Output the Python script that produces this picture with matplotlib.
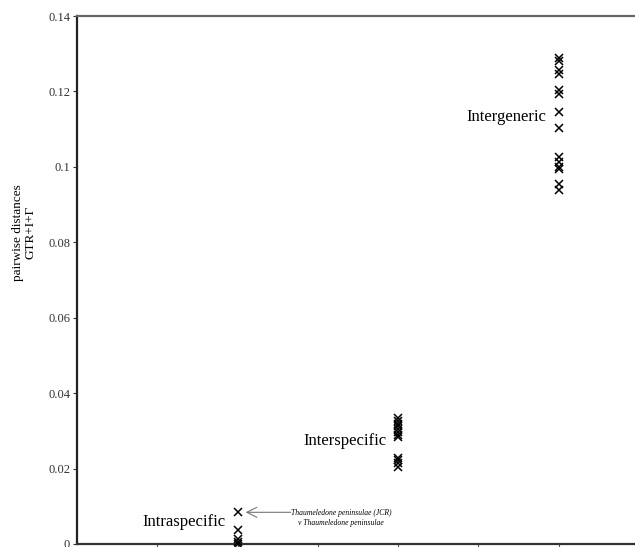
import matplotlib.pyplot as plt
import numpy as np

plt.rcParams['font.family'] = ['Liberation Serif', 'DejaVu Serif']

# data: pairwise distances GTR+I+G per comparison group
groups = ['Intraspecific', 'Interspecific', 'Intergeneric']
group_x = [2, 4, 6]
intra = [0.0084, 0.0037, 0.0012, 0.0005, 0.0]
inter = [0.0334, 0.0325, 0.0318, 0.0312, 0.0305, 0.0298, 0.0290, 0.0285,
         0.0228, 0.0222, 0.0215, 0.0205]
gener = [0.1290, 0.1282, 0.1257, 0.1245, 0.1204, 0.1192, 0.1145, 0.1102,
         0.1025, 0.1012, 0.1000, 0.0995, 0.0955, 0.0940]
yticks = [0, 0.02, 0.04, 0.06, 0.08, 0.1, 0.12, 0.14]
ytick_labels = ['0', '0.02', '0.04', '0.06', '0.08', '0.1', '0.12', '0.14']

fig = plt.figure(figsize=(6.35, 5.47), dpi=100)
ax = fig.add_axes([0.1213, 0.0055, 0.885, 0.9652])

for gx, vals in zip(group_x, [intra, inter, gener]):
    ax.plot([gx] * len(vals), vals, 'x', color='black', markersize=5.5,
            markeredgewidth=1.1, clip_on=False, zorder=3)

ax.set_xlim(0, 7)
ax.set_ylim(0, 0.14)
ax.set_xticks(np.arange(1, 7))
ax.set_xticklabels([])
ax.set_yticks(yticks)
ax.set_yticklabels(ytick_labels)
ax.tick_params(axis='y', labelsize=9, length=3, width=0.8, colors='#333333', pad=2)
ax.tick_params(axis='x', length=3, width=0.8, colors='#555555')
ax.spines['right'].set_visible(False)
ax.spines['left'].set_color('#222222')
ax.spines['left'].set_linewidth(1.6)
ax.spines['bottom'].set_color('#333333')
ax.spines['bottom'].set_linewidth(1.6)
ax.spines['top'].set_color('#666666')
ax.spines['top'].set_linewidth(1.6)

# group labels
ax.text(1.85, 0.0058, groups[0], ha='right', va='center', fontsize=12)
ax.text(3.85, 0.0272, groups[1], ha='right', va='center', fontsize=12)
ax.text(5.85, 0.1132, groups[2], ha='right', va='center', fontsize=12)

# annotation arrow
ax.annotate('', xy=(2.1, 0.0084), xytext=(2.66, 0.0084),
            arrowprops=dict(arrowstyle='->', color='#777777', lw=0.8,
                            mutation_scale=18, shrinkA=0, shrinkB=0))
ax.text(2.66, 0.0093, 'Thaumeledone peninsulae (JCR)\nv Thaumeledone peninsulae',
        ha='left', va='top', fontsize=5.5, style='italic',
        multialignment='center', linespacing=1.3)

fig.text(0.038, 0.575, 'pairwise distances\nGTR+I+\u0393', rotation=90,
         ha='center', va='center', fontsize=9.5, multialignment='center',
         linespacing=1.0)

fig.savefig('out.png', dpi=100)
